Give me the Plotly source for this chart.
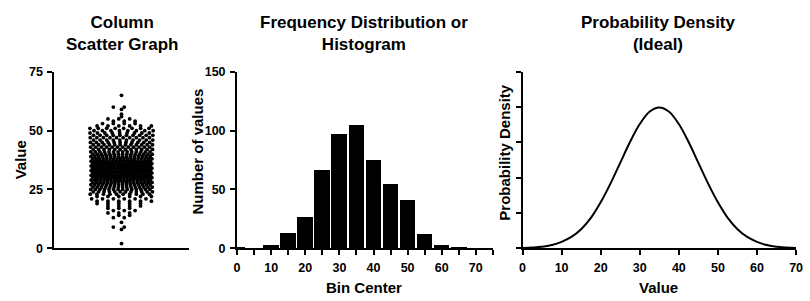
import plotly.graph_objects as go

# ---------------- data ----------------
# Column scatter: observed values (integer-rounded) and how many points share each value
scatter_values = [2, 8, 9, 11, 13, 14, 15, 16, 17, 18, 19, 20, 21, 22, 23, 24, 25, 26, 27,
                  28, 29, 30, 31, 32, 33, 34, 35, 36, 37, 38, 39, 40, 41, 42, 43, 44, 45,
                  46, 47, 48, 49, 50, 51, 52, 53, 54, 55, 56, 57, 59, 60, 65]
scatter_counts = [1, 1, 2, 1, 2, 2, 3, 3, 3, 4, 5, 6, 6, 6, 10, 12, 14, 15, 16,
                  17, 19, 20, 20, 21, 21, 22, 21, 21, 20, 18, 16, 15, 14, 12, 12, 12, 11,
                  10, 10, 10, 9, 8, 8, 6, 4, 3, 3, 1, 1, 1, 2, 1]

# Histogram
bin_centers = [0, 5, 10, 15, 20, 25, 30, 35, 40, 45, 50, 55, 60, 65, 70]
bin_counts = [1, 0, 3, 13, 27, 67, 97, 105, 75, 55, 41, 12, 3, 1, 0]

# Ideal probability density
density_x = [0, 2.5, 5, 7.5, 10, 12.5, 15, 17.5, 20, 22.5, 25, 27.5, 30, 32.5, 35,
             37.5, 40, 42.5, 45, 47.5, 50, 52.5, 55, 57.5, 60, 62.5, 65, 67.5, 70]
density_y = [0.0001, 0.0002, 0.0004, 0.0009, 0.0018, 0.0032, 0.0054, 0.0086, 0.0130,
             0.0183, 0.0242, 0.0301, 0.0352, 0.0387, 0.0399, 0.0387, 0.0352, 0.0301,
             0.0242, 0.0183, 0.0130, 0.0086, 0.0054, 0.0032, 0.0018, 0.0009, 0.0004,
             0.0002, 0.0001]

titles = ["Column<br>Scatter Graph", "Frequency Distribution or<br>Histogram",
          "Probability Density<br>(Ideal)"]

# ---------------- layout helpers ----------------
W, H = 810, 301
def px(x):
    return x / W
def py(y):
    return 1 - y / H

FONT = "Liberation Sans, Arial, Helvetica, sans-serif"
BLACK = "#000000"

# beeswarm-like horizontal offsets (in pixels) for the column scatter
xs, ys = [], []
max_half = 32
for r, (v, n) in enumerate(zip(scatter_values, scatter_counts)):
    s = 11.0
    if (n - 1) * s > 2 * max_half - 4:
        s = (2 * max_half - 4) / (n - 1)
    shift = [0, s / 2][r % 2] if n > 1 else 0
    for i in range(n):
        off = (i - (n - 1) / 2) * s + shift - (s / 4 if n > 1 else 0)
        off = max(-max_half, min(max_half, off))
        xs.append(off)
        ys.append(v)

fig = go.Figure()

fig.add_trace(go.Scatter(x=xs, y=ys, mode="markers", xaxis="x", yaxis="y",
                         marker=dict(size=3.8, color=BLACK), showlegend=False,
                         cliponaxis=False))

fig.add_trace(go.Bar(x=bin_centers, y=bin_counts, width=4.6, xaxis="x2", yaxis="y2",
                     marker=dict(color=BLACK, line=dict(width=0)),
                     showlegend=False))

fig.add_trace(go.Scatter(x=density_x, y=density_y, mode="lines", xaxis="x3", yaxis="y3",
                         line=dict(color=BLACK, width=2, shape="spline"),
                         showlegend=False))

ydom = [py(253), py(68)]
tickfont = dict(family=FONT, size=12.5, color=BLACK, weight="bold")
common = dict(showline=True, linecolor=BLACK, linewidth=2, showgrid=False,
              zeroline=False, ticks="outside", ticklen=5, tickwidth=2,
              tickcolor=BLACK, tickfont=tickfont, fixedrange=True, ticklabelstandoff=2)

fig.update_layout(
    width=W, height=H, margin=dict(l=0, r=0, t=0, b=0),
    paper_bgcolor="white", plot_bgcolor="white",
    font=dict(family=FONT, color=BLACK),
    bargap=0,
    xaxis=dict(domain=[px(52), px(188)], range=[-68, 68], showline=True,
               linecolor=BLACK, linewidth=2, showgrid=False, zeroline=False,
               showticklabels=False, ticks="", fixedrange=True),
    yaxis=dict(domain=ydom, range=[0, 75], tickvals=[0, 25, 50, 75], **common),
    xaxis2=dict(domain=[px(237), px(496)], range=[0, 75], anchor="y2",
                tickvals=[0, 10, 20, 30, 40, 50, 60, 70],
                minor=dict(tickvals=[5, 15, 25, 35, 45, 55, 65, 75], ticks="outside",
                           ticklen=5, tickwidth=2, tickcolor=BLACK),
                **common),
    yaxis2=dict(domain=ydom, range=[0, 150], anchor="x2",
                tickvals=[0, 50, 100, 150], **common),
    xaxis3=dict(domain=[px(526), px(803)], range=[0, 70], anchor="y3",
                tickvals=[0, 10, 20, 30, 40, 50, 60, 70], **common),
    yaxis3=dict(domain=ydom, range=[0, 0.05], anchor="x3",
                tickvals=[0, 0.01, 0.02, 0.03, 0.04, 0.05],
                **{**common, "showticklabels": False}),
)

ann = []
title_font = dict(family=FONT, size=17, color=BLACK)
for t, cx in zip(titles, [120, 366, 664]):
    ann.append(dict(text="<b>" + t.replace("<br>", "</b><br><b>") + "</b>",
                    x=px(cx), y=py(28), xref="paper", yref="paper",
                    xanchor="center", yanchor="middle", align="center",
                    showarrow=False, font=title_font))

axis_font = dict(family=FONT, size=15, color=BLACK)
for t, cx, cy in [("Value", 18, 160), ("Number of values", 197, 152),
                  ("Probability Density", 508, 152)]:
    ann.append(dict(text="<b>" + t + "</b>", x=px(cx), y=py(cy), xref="paper",
                    yref="paper", xanchor="center", yanchor="middle", showarrow=False,
                    textangle=-90, font=axis_font))
for t, cx in [("Bin Center", 366), ("Value", 664)]:
    ann.append(dict(text="<b>" + t + "</b>", x=px(cx), y=py(294), xref="paper",
                    yref="paper", xanchor="center", yanchor="middle", showarrow=False,
                    font=axis_font))

fig.update_layout(annotations=ann)

fig.write_html("out.html", config={"displayModeBar": False},
               post_script="document.body.style.margin='0';"
                           "document.body.style.overflow='hidden';")
